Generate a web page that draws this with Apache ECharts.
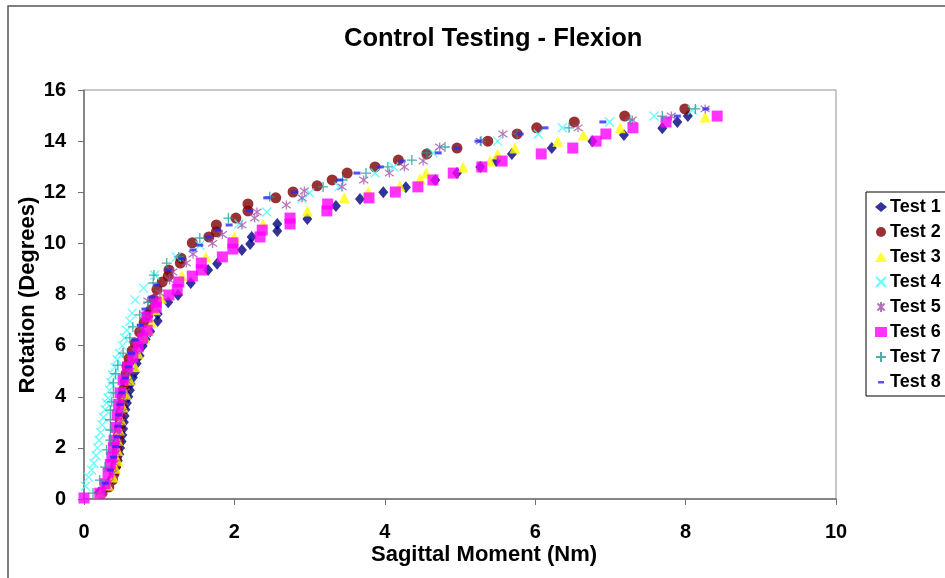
<!DOCTYPE html>
<html><head><meta charset="utf-8">
<script src="https://cdn.jsdelivr.net/npm/echarts@6/dist/echarts.min.js"></script>
<style>html,body{margin:0;padding:0;background:#fff}#c{width:945px;height:578px}</style>
</head><body><div id="c"></div>
<script>
const seriesNames = ['Test 1','Test 2','Test 3','Test 4','Test 5','Test 6','Test 7','Test 8'];
const xTicks = [0,2,4,6,8,10];
const yTicks = [0,2,4,6,8,10,12,14,16];

const test1 = [[0.20,0.25],[0.30,0.50],[0.36,0.75],[0.40,1.00],[0.43,1.25],[0.45,1.50],[0.47,1.75],[0.48,2.00],[0.50,2.25],[0.51,2.50],[0.52,2.75],[0.53,3.00],[0.54,3.25],[0.55,3.50],[0.57,3.76],[0.59,4.00],[0.61,4.25],[0.62,4.50],[0.65,4.75],[0.68,4.97],[0.70,5.30],[0.74,5.60],[0.78,5.99],[0.82,6.25],[0.88,6.55],[0.98,6.96],[0.98,7.24],[1.12,7.70],[1.25,7.98],[1.42,8.45],[1.65,8.96],[1.77,9.20],[2.10,9.74],[2.21,9.98],[2.23,10.25],[2.57,10.48],[2.57,10.76],[2.97,10.95],[3.35,11.46],[3.67,11.74],[3.98,12.00],[4.28,12.20],[4.67,12.48],[4.96,12.75],[5.27,12.99],[5.48,13.22],[5.69,13.50],[6.22,13.73],[6.76,14.00],[7.18,14.24],[7.69,14.50],[7.89,14.75],[8.03,14.98]];
const test2 = [[0.24,0.23],[0.33,0.47],[0.38,0.75],[0.40,1.00],[0.42,1.30],[0.43,1.60],[0.44,1.90],[0.45,2.20],[0.46,2.50],[0.47,2.80],[0.48,3.10],[0.49,3.40],[0.50,3.70],[0.51,4.00],[0.53,4.30],[0.55,4.60],[0.56,4.90],[0.57,5.20],[0.60,5.50],[0.64,5.80],[0.68,6.10],[0.74,6.53],[0.80,6.90],[0.85,7.20],[0.89,7.40],[0.93,7.80],[0.97,8.20],[1.04,8.49],[1.12,8.72],[1.13,8.96],[1.28,9.23],[1.29,9.42],[1.44,10.02],[1.66,10.25],[1.76,10.45],[1.76,10.72],[2.02,10.99],[2.18,11.27],[2.18,11.54],[2.55,11.78],[2.78,12.01],[3.10,12.25],[3.30,12.48],[3.50,12.75],[3.87,12.99],[4.18,13.26],[4.56,13.50],[4.96,13.73],[5.37,14.00],[5.76,14.28],[6.02,14.52],[6.52,14.75],[7.19,14.98],[7.99,15.26]];
const test3 = [[0.22,0.25],[0.32,0.55],[0.39,0.86],[0.42,1.20],[0.45,1.50],[0.45,1.90],[0.45,2.30],[0.47,2.70],[0.49,3.10],[0.52,3.60],[0.56,4.10],[0.61,4.66],[0.68,5.17],[0.72,5.70],[0.81,6.30],[0.86,6.60],[0.90,6.90],[0.95,7.40],[1.03,7.85],[1.30,8.74],[1.62,9.47],[2.00,10.25],[2.38,10.76],[2.97,11.27],[3.46,11.78],[3.78,12.01],[4.20,12.25],[4.47,12.52],[4.55,12.75],[5.04,12.99],[5.40,13.22],[5.50,13.50],[5.73,13.73],[6.30,14.00],[6.64,14.24],[7.13,14.52],[8.26,14.94]];
const test4 = [[0.02,0.50],[0.06,0.85],[0.10,1.13],[0.13,1.40],[0.16,1.70],[0.18,2.00],[0.20,2.30],[0.22,2.60],[0.24,2.90],[0.26,3.20],[0.28,3.50],[0.30,3.75],[0.32,3.95],[0.34,4.25],[0.36,4.55],[0.38,4.85],[0.41,5.15],[0.44,5.45],[0.47,5.70],[0.51,6.00],[0.54,6.30],[0.57,6.60],[0.61,6.95],[0.64,7.27],[0.68,7.79],[0.79,8.25],[0.94,8.76],[1.23,9.47],[1.54,9.93],[2.06,10.76],[2.43,11.23],[2.90,11.74],[3.00,11.97],[3.39,12.21],[3.87,12.75],[4.12,12.99],[4.64,13.54],[5.50,14.00],[6.04,14.28],[6.36,14.52],[6.99,14.75],[7.58,14.98],[8.09,15.22]];
const test5 = [[0.25,0.30],[0.33,0.65],[0.38,1.00],[0.41,1.40],[0.43,1.80],[0.45,2.20],[0.47,2.60],[0.49,3.00],[0.51,3.40],[0.53,3.80],[0.55,4.20],[0.58,4.60],[0.61,5.00],[0.64,5.40],[0.68,5.80],[0.72,6.20],[0.76,6.70],[0.80,7.20],[0.85,7.75],[1.01,8.06],[1.14,8.57],[1.18,8.88],[1.36,9.23],[1.45,9.58],[1.71,10.00],[1.84,10.35],[2.10,10.72],[2.27,10.99],[2.30,11.23],[2.69,11.50],[2.90,11.78],[2.93,12.05],[3.43,12.21],[3.72,12.48],[4.06,12.75],[4.26,12.99],[4.51,13.22],[4.73,13.77],[5.27,14.00],[5.57,14.28],[6.57,14.52],[7.29,14.83],[7.81,14.98],[8.26,15.26]];
const test6 = [[0.00,0.04],[0.21,0.23],[0.28,0.60],[0.32,1.02],[0.35,1.35],[0.37,1.64],[0.39,2.00],[0.40,2.30],[0.42,2.80],[0.44,3.29],[0.46,3.70],[0.48,4.15],[0.52,4.66],[0.58,5.17],[0.65,5.55],[0.72,5.95],[0.78,6.30],[0.84,6.60],[0.84,7.12],[0.96,7.50],[0.96,7.70],[1.13,7.98],[1.24,8.20],[1.26,8.49],[1.44,8.72],[1.56,8.96],[1.56,9.23],[1.84,9.47],[1.98,9.78],[1.98,10.02],[2.34,10.25],[2.37,10.52],[2.74,10.76],[2.74,10.99],[3.23,11.27],[3.24,11.54],[3.79,11.78],[4.14,12.01],[4.44,12.21],[4.64,12.48],[4.91,12.75],[5.29,12.99],[5.56,13.22],[6.08,13.50],[6.50,13.73],[6.81,14.00],[6.94,14.28],[7.30,14.52],[7.74,14.75],[8.42,14.98]];
const test7 = [[0.12,0.23],[0.21,0.74],[0.28,1.25],[0.30,1.92],[0.35,2.30],[0.35,2.70],[0.35,3.10],[0.35,3.48],[0.37,3.80],[0.39,4.15],[0.39,4.54],[0.42,4.90],[0.45,5.24],[0.52,5.71],[0.61,6.30],[0.65,6.73],[0.74,7.20],[0.85,7.70],[0.92,8.45],[0.93,8.76],[1.10,9.23],[1.26,9.47],[1.54,10.21],[1.92,10.99],[2.47,11.82],[3.18,12.21],[3.44,12.48],[3.75,12.75],[4.04,12.99],[4.36,13.26],[4.56,13.54],[4.80,13.77],[5.28,14.00],[5.76,14.28],[6.45,14.52],[7.26,14.83],[7.69,14.98],[8.13,15.26]];
const test8 = [[0.28,0.62],[0.35,1.13],[0.39,1.64],[0.42,2.05],[0.44,2.43],[0.45,2.85],[0.46,3.29],[0.48,3.70],[0.50,4.15],[0.55,4.73],[0.59,5.17],[0.63,5.70],[0.68,6.22],[0.75,6.80],[0.81,7.43],[0.90,7.90],[0.97,8.37],[1.12,8.96],[1.30,9.40],[1.45,9.74],[1.54,9.93],[1.66,10.25],[1.78,10.52],[1.93,10.72],[2.20,11.27],[2.43,11.78],[2.80,12.01],[3.40,12.48],[3.63,12.75],[3.94,12.99],[4.23,13.22],[4.71,13.54],[4.96,13.73],[5.24,14.00],[5.80,14.28],[6.13,14.52],[6.90,14.75],[7.89,14.98],[8.27,15.26]];

const allData = [test1,test2,test3,test4,test5,test6,test7,test8];
const FONT = '"Liberation Sans",Arial,sans-serif';

const styles = [
  {symbol:'diamond', symbolSize:[10,12], itemStyle:{color:'#000080'}},
  {symbol:'circle', symbolSize:11, itemStyle:{color:'#800000'}},
  {symbol:'triangle', symbolSize:11, itemStyle:{color:'#ffff00'}},
  {symbol:'path://M0,0L10,10M10,0L0,10', symbolSize:9, itemStyle:{color:'rgba(0,0,0,0)', borderColor:'#40ffff', borderWidth:1.3}},
  {symbol:'path://M0,0L10,10M10,0L0,10M5,-2L5,12', symbolSize:9, itemStyle:{color:'rgba(0,0,0,0)', borderColor:'#a050a8', borderWidth:1.2}},
  {symbol:'rect', symbolSize:11, itemStyle:{color:'#ff00ff'}},
  {symbol:'path://M5,0L5,10M0,5L10,5', symbolSize:10, itemStyle:{color:'rgba(0,0,0,0)', borderColor:'#209898', borderWidth:1.3}},
  {symbol:'rect', symbolSize:[7,3], itemStyle:{color:'#2828ff'}}
];

const series = seriesNames.map((n,i)=>Object.assign({
  name:n, type:'scatter', data: allData[i], z: 2+i, animation:false
}, styles[i]));

const legendData = seriesNames.map((n,i)=> i===7 ? {name:n, icon:'path://M0,0ZM3,4L9,4L9,6.5L3,6.5ZM12,10Z'} : {name:n});

const chart = echarts.init(document.getElementById('c'), null, {renderer:'canvas'});
chart.setOption({
  animation:false,
  backgroundColor:'#ffffff',
  title:{text:'Control Testing - Flexion', left:339, top:21,
    textStyle:{fontFamily:FONT, fontSize:25.5, fontWeight:'bold', color:'#000'}},
  grid:{left:84, top:90, width:752, height:409, show:true, borderColor:'#909090', borderWidth:1, backgroundColor:'#fff'},
  xAxis:{type:'value', min:0, max:10, interval:2,
    axisLine:{show:true, lineStyle:{color:'#707070', width:1.5}},
    axisTick:{show:true, inside:false, length:6, lineStyle:{color:'#707070'}},
    splitLine:{show:false},
    axisLabel:{margin:23, fontFamily:FONT, fontSize:20, fontWeight:'bold', color:'#000',
      formatter:v=>xTicks.includes(v)?String(v):''}},
  yAxis:{type:'value', min:0, max:16, interval:2,
    axisLine:{show:true, lineStyle:{color:'#707070', width:1.5}},
    axisTick:{show:true, inside:false, length:6, lineStyle:{color:'#707070'}},
    splitLine:{show:false},
    axisLabel:{margin:18, fontFamily:FONT, fontSize:20, fontWeight:'bold', color:'#000',
      formatter:v=>yTicks.includes(v)?String(v):''}},
  legend:{orient:'vertical', left:866, top:192, data:legendData,
    backgroundColor:'#fff', borderColor:'#000', borderWidth:1,
    padding:[6,30,5,9], itemWidth:12, itemHeight:10, itemGap:7,
    textStyle:{fontFamily:FONT, fontSize:18, fontWeight:'bold', color:'#000', lineHeight:18, padding:[0,0,0,-2]}},
  graphic:[
    {type:'rect', shape:{x:8, y:6, width:1100, height:1100}, style:{fill:'none', stroke:'#555', lineWidth:1.5}, z:-10, silent:true},
    {type:'text', left:371, top:544, style:{text:'Sagittal Moment (Nm)', font:'bold 22px '+FONT, fill:'#000'}},
    {type:'text', x:28, y:295, rotation:Math.PI/2, style:{text:'Rotation (Degrees)', font:'bold 22px '+FONT, fill:'#000', align:'center', verticalAlign:'middle'}}
  ],
  series: series
});
</script></body></html>
